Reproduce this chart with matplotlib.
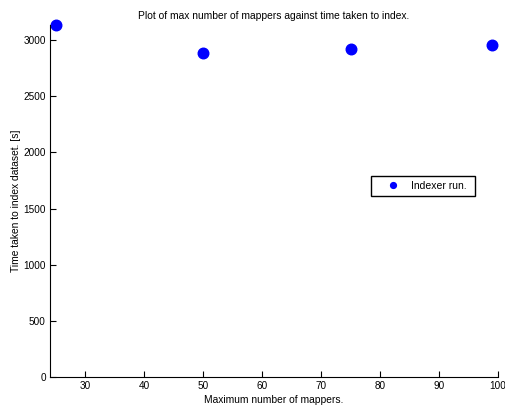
import matplotlib
matplotlib.use("Agg")
import matplotlib.pyplot as plt

mappers = [25, 50, 75, 99]
times = [3134, 2887, 2917, 2956]
xticks = [30, 40, 50, 60, 70, 80, 90, 100]
yticks = [0, 500, 1000, 1500, 2000, 2500, 3000]

plt.rcParams['font.family'] = ['Liberation Sans', 'DejaVu Sans']
fig = plt.figure(figsize=(5.05, 4.07), dpi=100)
ax = fig.add_axes([0.099, 0.0737, 0.887, 0.865])
ax.plot(mappers, times, 'o', color='#0000ff', markersize=7.6, label='Indexer run. ', clip_on=False)
ax.set_xlim(24, 100)
ax.set_ylim(0, 3134)
ax.set_xticks(xticks)
ax.set_yticks(yticks)
ax.spines['top'].set_visible(False)
ax.spines['right'].set_visible(False)
ax.tick_params(direction='in', length=4, labelsize=7.2, width=0.8, pad=3)
ax.set_xlabel('Maximum number of mappers.', fontsize=7.4, labelpad=2.5)
ax.set_ylabel('Time taken to index dataset. [s]', fontsize=7.4, labelpad=2)
ax.set_title('Plot of max number of mappers against time taken to index.', fontsize=7.4, pad=4)
leg = ax.legend(loc='center', bbox_to_anchor=(423/505, 1 - 186/407), bbox_transform=fig.transFigure,
                fontsize=7.5, fancybox=False, framealpha=1, edgecolor='black', handlelength=3.3,
                handletextpad=0.1, borderpad=0.5, markerscale=0.55)
leg.get_frame().set_linewidth(1.0)
fig.savefig('out.png', dpi=100)
